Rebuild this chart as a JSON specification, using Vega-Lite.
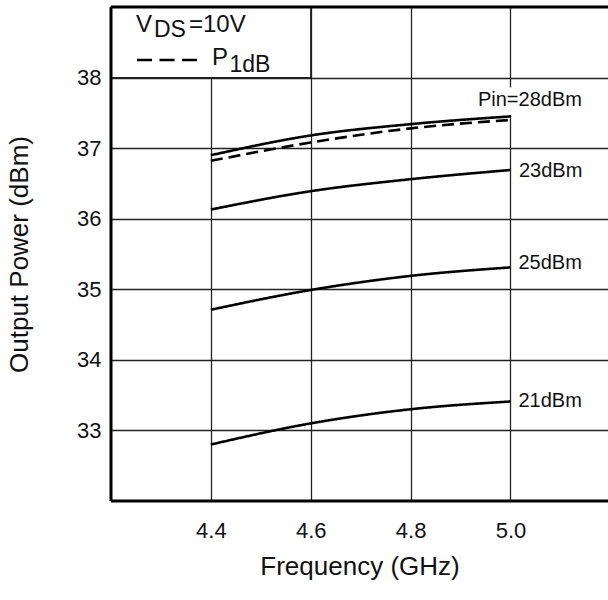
{
  "$schema": "https://vega.github.io/schema/vega-lite/v6.json",
  "autosize": "none",
  "width": 497,
  "height": 494,
  "padding": {"left": 111, "top": 7, "right": 0, "bottom": 99},
  "background": "white",
  "view": {"stroke": null},
  "config": {
    "font": "Liberation Sans",
    "axis": {
      "domain": false,
      "ticks": false,
      "grid": true,
      "gridColor": "#222",
      "gridWidth": 1.3,
      "gridOpacity": 1,
      "labelColor": "#111",
      "titleColor": "#111",
      "labelFont": "Liberation Sans",
      "titleFont": "Liberation Sans",
      "titleFontWeight": "normal"
    }
  },
  "datasets": {
    "curves": [
      {"series": "28dBm", "kind": "Pout", "f": 4.4, "p": 36.90},
      {"series": "28dBm", "kind": "Pout", "f": 4.6, "p": 37.18},
      {"series": "28dBm", "kind": "Pout", "f": 4.8, "p": 37.34},
      {"series": "28dBm", "kind": "Pout", "f": 5.0, "p": 37.45},
      {"series": "P1dB", "kind": "P1dB", "f": 4.4, "p": 36.82},
      {"series": "P1dB", "kind": "P1dB", "f": 4.6, "p": 37.08},
      {"series": "P1dB", "kind": "P1dB", "f": 4.8, "p": 37.28},
      {"series": "P1dB", "kind": "P1dB", "f": 5.0, "p": 37.40},
      {"series": "23dBm", "kind": "Pout", "f": 4.4, "p": 36.13},
      {"series": "23dBm", "kind": "Pout", "f": 4.6, "p": 36.39},
      {"series": "23dBm", "kind": "Pout", "f": 4.8, "p": 36.56},
      {"series": "23dBm", "kind": "Pout", "f": 5.0, "p": 36.69},
      {"series": "25dBm", "kind": "Pout", "f": 4.4, "p": 34.71},
      {"series": "25dBm", "kind": "Pout", "f": 4.6, "p": 34.99},
      {"series": "25dBm", "kind": "Pout", "f": 4.8, "p": 35.19},
      {"series": "25dBm", "kind": "Pout", "f": 5.0, "p": 35.31},
      {"series": "21dBm", "kind": "Pout", "f": 4.4, "p": 32.80},
      {"series": "21dBm", "kind": "Pout", "f": 4.6, "p": 33.10},
      {"series": "21dBm", "kind": "Pout", "f": 4.8, "p": 33.30},
      {"series": "21dBm", "kind": "Pout", "f": 5.0, "p": 33.41}
    ],
    "labels": [
      {"label": "23dBm", "f": 5.017, "p": 36.68},
      {"label": "25dBm", "f": 5.016, "p": 35.37},
      {"label": "21dBm", "f": 5.016, "p": 33.41}
    ]
  },
  "layer": [
    {
      "data": {"values": [{"x1": 4.2, "x2": 4.6, "y1": 38, "y2": 39}]},
      "mark": {"type": "rect", "fill": "white", "stroke": "#222", "strokeWidth": 1.3},
      "encoding": {
        "x": {"field": "x1", "type": "quantitative",
              "scale": {"domain": [4.2, 5.1954], "nice": false, "zero": false},
              "axis": {"values": [4.4, 4.6, 4.8, 5.0], "format": ".1f", "labelFontSize": 22, "labelPadding": 19,
                       "title": "Frequency (GHz)", "titleFontSize": 26, "titlePadding": 12}},
        "x2": {"field": "x2"},
        "y": {"field": "y1", "type": "quantitative",
              "scale": {"domain": [32, 39], "nice": false, "zero": false},
              "axis": {"values": [33, 34, 35, 36, 37, 38], "format": "d", "labelFontSize": 22, "labelPadding": 10,
                       "title": "Output Power (dBm)", "titleFontSize": 26, "titlePadding": 44}},
        "y2": {"field": "y2"}
      }
    },
    {
      "data": {"values": [{"x1": 4.99, "x2": 5.01, "y1": 37.47, "y2": 37.86}]},
      "mark": {"type": "rect", "fill": "white"},
      "encoding": {
        "x": {"field": "x1", "type": "quantitative"},
        "x2": {"field": "x2"},
        "y": {"field": "y1", "type": "quantitative"},
        "y2": {"field": "y2"}
      }
    },
    {
      "data": {"name": "curves"},
      "mark": {"type": "line", "color": "black", "strokeWidth": 2.6, "interpolate": "monotone"},
      "encoding": {
        "x": {"field": "f", "type": "quantitative"},
        "y": {"field": "p", "type": "quantitative"},
        "detail": {"field": "series"},
        "strokeDash": {"field": "kind", "type": "nominal",
                       "scale": {"domain": ["Pout", "P1dB"], "range": [[1, 0], [12, 6]]}, "legend": null}
      }
    },
    {
      "data": {"values": [{"label": "Pin=28dBm", "f": 5.039, "p": 37.68}]},
      "mark": {"type": "text", "fontSize": 20, "align": "center", "baseline": "middle", "color": "#111"},
      "encoding": {
        "x": {"field": "f", "type": "quantitative"},
        "y": {"field": "p", "type": "quantitative"},
        "text": {"field": "label"}
      }
    },
    {
      "data": {"name": "labels"},
      "mark": {"type": "text", "fontSize": 20, "align": "left", "baseline": "middle", "color": "#111"},
      "encoding": {
        "x": {"field": "f", "type": "quantitative"},
        "y": {"field": "p", "type": "quantitative"},
        "text": {"field": "label"}
      }
    },
    {
      "data": {"values": [{"t": "V", "f": 4.2501, "p": 38.65}, {"t": "=10V", "f": 4.3562, "p": 38.65}, {"t": "P", "f": 4.4023, "p": 38.178}]},
      "mark": {"type": "text", "fontSize": 24, "align": "left", "baseline": "alphabetic", "color": "#111"},
      "encoding": {
        "x": {"field": "f", "type": "quantitative"},
        "y": {"field": "p", "type": "quantitative"},
        "text": {"field": "t"}
      }
    },
    {
      "data": {"values": [{"t": "DS", "f": 4.2861, "p": 38.579}, {"t": "1dB", "f": 4.4373, "p": 38.083}]},
      "mark": {"type": "text", "fontSize": 23, "align": "left", "baseline": "alphabetic", "color": "#111"},
      "encoding": {
        "x": {"field": "f", "type": "quantitative"},
        "y": {"field": "p", "type": "quantitative"},
        "text": {"field": "t"}
      }
    },
    {
      "data": {"values": [{"f1": 4.2521, "f2": 4.3722, "p": 38.249}]},
      "mark": {"type": "rule", "color": "black", "strokeWidth": 2.6, "strokeDash": [15, 7.5]},
      "encoding": {
        "x": {"field": "f1", "type": "quantitative"},
        "x2": {"field": "f2"},
        "y": {"field": "p", "type": "quantitative"}
      }
    },
    {
      "data": {"values": [{"edge": "left"}]},
      "mark": {"type": "rule", "color": "black", "strokeWidth": 3},
      "encoding": {
        "x": {"datum": 4.2, "type": "quantitative"},
        "y": {"datum": 32, "type": "quantitative"},
        "y2": {"datum": 39}
      }
    },
    {
      "data": {"values": [{"edge": "top"}, {"edge": "bottom"}]},
      "mark": {"type": "rule", "color": "black", "strokeWidth": 3},
      "encoding": {
        "x": {"datum": 4.2, "type": "quantitative"},
        "x2": {"datum": 5.1954},
        "y": {"field": "yv", "type": "quantitative"}
      },
      "transform": [{"calculate": "datum.edge === 'top' ? 39 : 32", "as": "yv"}]
    }
  ]
}
